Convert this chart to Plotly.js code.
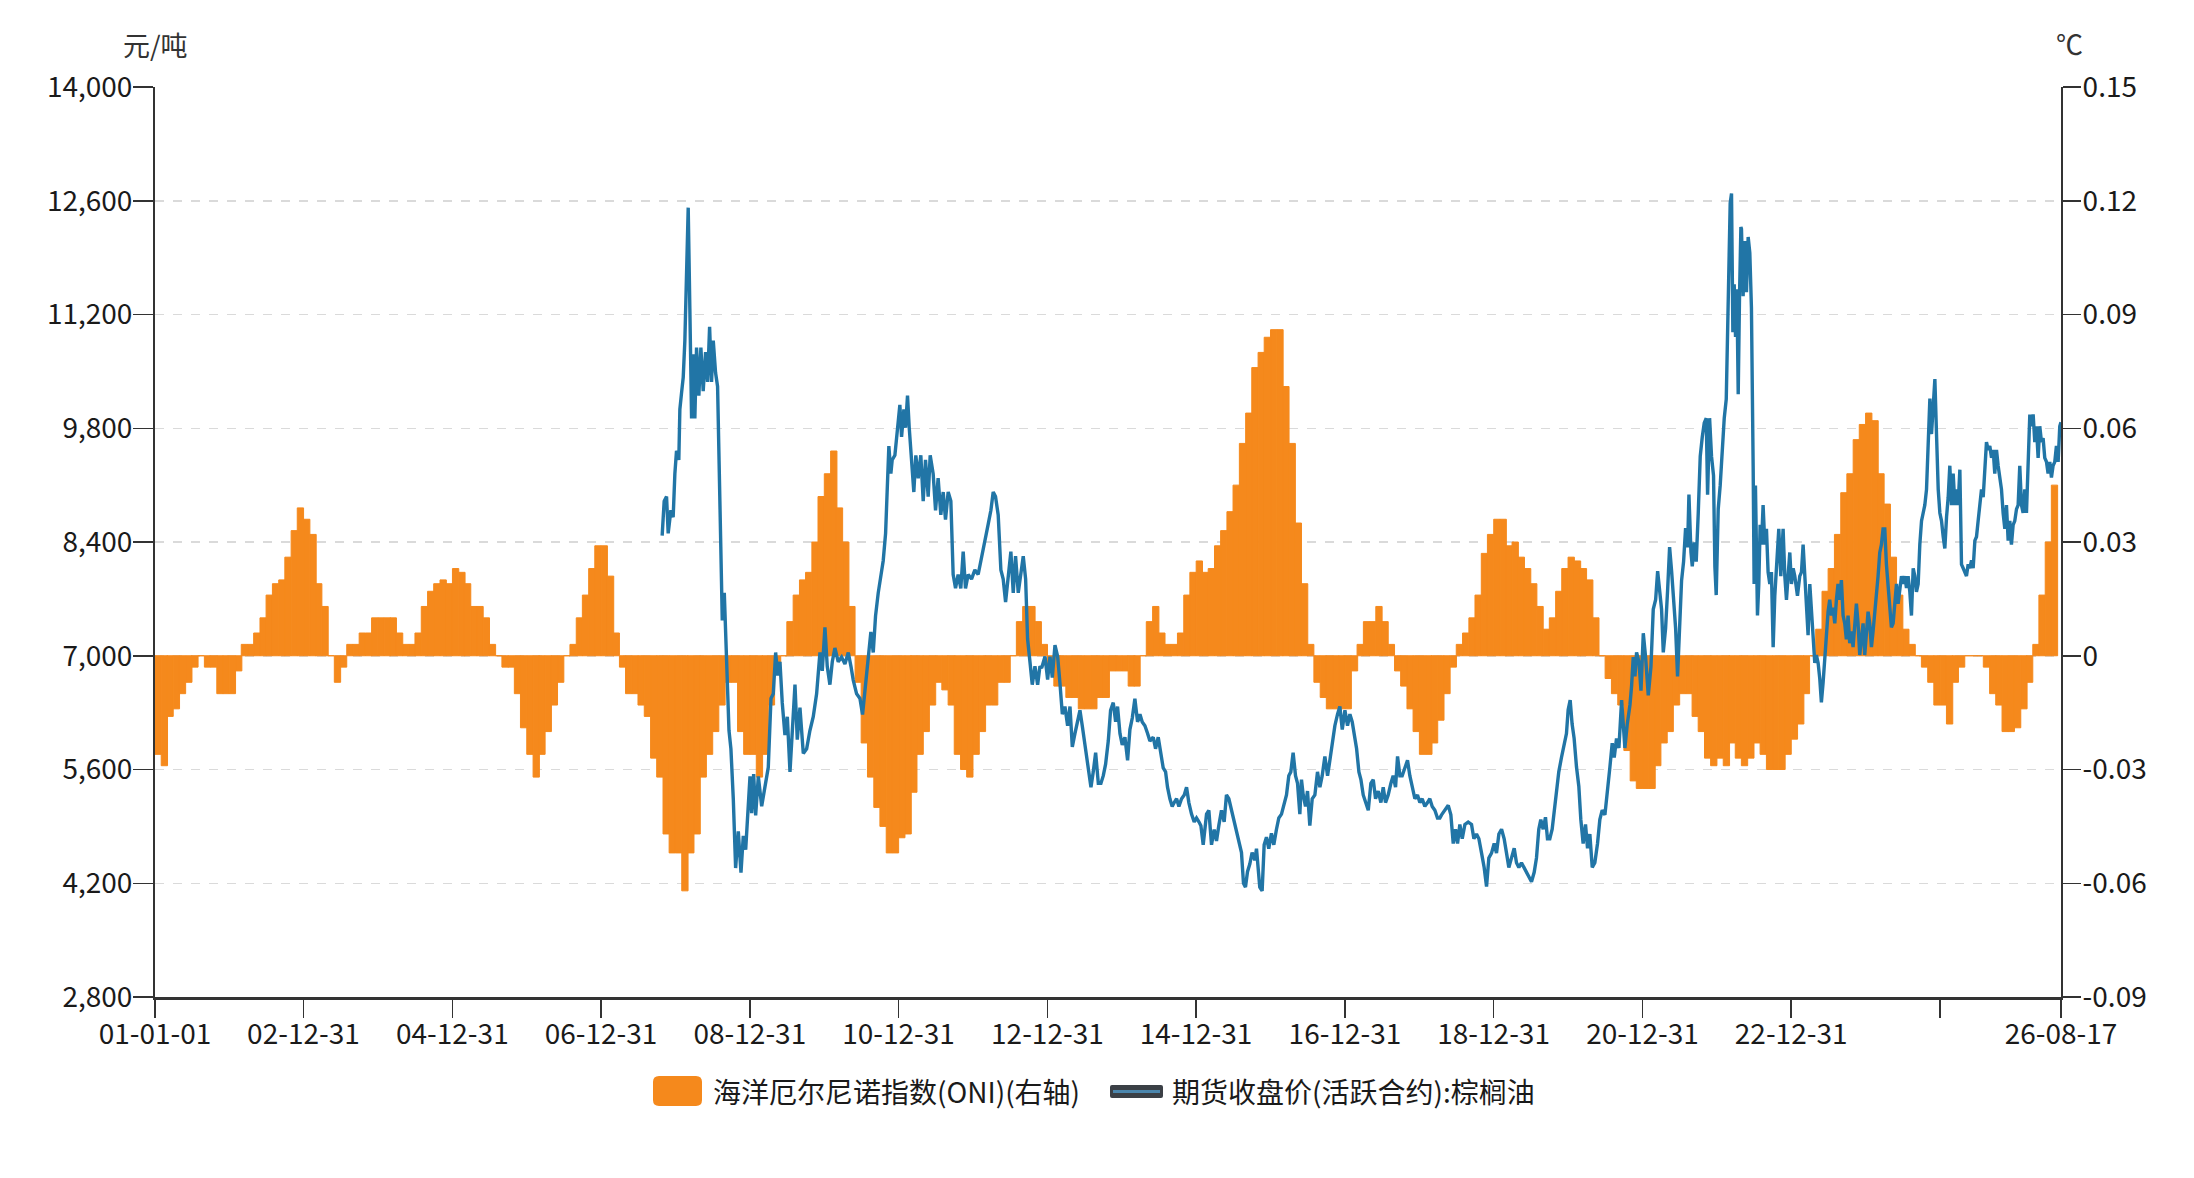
<!DOCTYPE html>
<html>
<head>
<meta charset="utf-8">
<script src="https://cdn.plot.ly/plotly-3.0.1.min.js"></script>
<style>
  html, body { margin: 0; padding: 0; background: #fff; }
  #chart { width: 2194px; height: 1178px; }
</style>
</head>
<body>
<div id="chart"></div>
<script>
/* ----- Data ----- */

// Oceanic Nino index (right axis), one value per month starting 2001-01
var oniStartYear = 2001;
var oniValues = [
  -0.026, -0.029, -0.016, -0.014, -0.010, -0.007, -0.003, 0, -0.003, -0.003, -0.010, -0.010,   // 2001
  -0.010, -0.004, 0.003, 0.003, 0.006, 0.010, 0.016, 0.019, 0.020, 0.026, 0.033, 0.039,        // 2002
  0.036, 0.032, 0.019, 0.013, 0, -0.007, -0.003, 0.003, 0.003, 0.006, 0.006, 0.010,            // 2003
  0.010, 0.010, 0.010, 0.006, 0.003, 0.003, 0.006, 0.013, 0.017, 0.019, 0.020, 0.019,          // 2004
  0.023, 0.022, 0.019, 0.013, 0.013, 0.010, 0.003, 0, -0.003, -0.003, -0.010, -0.019,          // 2005
  -0.026, -0.032, -0.026, -0.020, -0.013, -0.007, 0, 0.003, 0.010, 0.016, 0.023, 0.029,        // 2006
  0.029, 0.021, 0.006, -0.003, -0.010, -0.010, -0.013, -0.016, -0.027, -0.032, -0.047, -0.052, // 2007
  -0.052, -0.062, -0.052, -0.047, -0.032, -0.026, -0.020, -0.013, -0.007, -0.007, -0.020, -0.026, // 2008
  -0.026, -0.032, -0.026, -0.013, -0.003, 0, 0.009, 0.016, 0.020, 0.022, 0.030, 0.042,         // 2009
  0.048, 0.054, 0.039, 0.030, 0.013, -0.007, -0.023, -0.032, -0.040, -0.045, -0.052, -0.052,   // 2010
  -0.048, -0.047, -0.036, -0.026, -0.020, -0.013, -0.007, -0.009, -0.013, -0.026, -0.030, -0.032, // 2011
  -0.026, -0.020, -0.013, -0.013, -0.007, -0.007, 0, 0.009, 0.013, 0.013, 0.009, 0.003,        // 2012
  -0.004, -0.008, -0.008, -0.011, -0.011, -0.014, -0.014, -0.014, -0.011, -0.011, -0.004, -0.004, // 2013
  -0.004, -0.008, -0.008, 0, 0.009, 0.013, 0.006, 0.003, 0.003, 0.006, 0.016, 0.022,           // 2014
  0.025, 0.022, 0.023, 0.029, 0.033, 0.038, 0.045, 0.056, 0.064, 0.076, 0.080, 0.084,          // 2015
  0.086, 0.086, 0.071, 0.056, 0.035, 0.019, 0.003, -0.007, -0.011, -0.014, -0.014, -0.014,     // 2016
  -0.014, -0.004, 0.003, 0.009, 0.009, 0.013, 0.009, 0.003, -0.004, -0.008, -0.014, -0.020,    // 2017
  -0.026, -0.026, -0.023, -0.017, -0.010, -0.003, 0.003, 0.006, 0.010, 0.016, 0.027, 0.032,    // 2018
  0.036, 0.036, 0.029, 0.030, 0.026, 0.023, 0.019, 0.013, 0.007, 0.010, 0.017, 0.023,          // 2019
  0.026, 0.025, 0.023, 0.020, 0.010, 0, -0.006, -0.010, -0.013, -0.025, -0.033, -0.035,        // 2020
  -0.035, -0.035, -0.029, -0.023, -0.020, -0.013, -0.010, -0.010, -0.016, -0.020, -0.027, -0.029, // 2021
  -0.027, -0.029, -0.023, -0.027, -0.029, -0.027, -0.023, -0.026, -0.030, -0.030, -0.030, -0.026, // 2022
  -0.022, -0.018, -0.010, 0, 0.007, 0.017, 0.023, 0.032, 0.043, 0.048, 0.057, 0.061,           // 2023
  0.064, 0.062, 0.048, 0.040, 0.026, 0.016, 0.007, 0.003, 0, -0.003, -0.007, -0.013,           // 2024
  -0.013, -0.018, -0.007, -0.003, 0, 0, 0, -0.003, -0.010, -0.013, -0.020, -0.020,             // 2025
  -0.019, -0.014, -0.007, 0.003, 0.016, 0.030, 0.045                                           // 2026
];

// palm oil futures close (left axis): [decimal year, yuan per ton]
var palmOil = [
  [2007.820, 8479], [2007.847, 8903], [2007.879, 8959], [2007.901, 8507], [2007.937, 8790], [2007.968, 8705],
  [2007.991, 9241], [2008.013, 9523], [2008.044, 9410], [2008.058, 10032], [2008.080, 10229], [2008.103, 10427],
  [2008.125, 10878], [2008.147, 11725], [2008.170, 12515], [2008.192, 11273], [2008.215, 9919], [2008.237, 10709],
  [2008.259, 9919], [2008.282, 10794], [2008.313, 10201], [2008.340, 10794], [2008.371, 10257], [2008.403, 10737],
  [2008.430, 10370], [2008.457, 11047], [2008.483, 10370], [2008.506, 10878], [2008.537, 10483], [2008.564, 10314],
  [2008.582, 9354], [2008.609, 8056], [2008.627, 7435], [2008.654, 7774], [2008.672, 7209], [2008.699, 6644],
  [2008.717, 6080], [2008.743, 5854], [2008.775, 5233], [2008.806, 4387], [2008.842, 4838], [2008.878, 4330],
  [2008.909, 4782], [2008.941, 4613], [2008.968, 5120], [2008.999, 5515], [2009.021, 5064], [2009.048, 5543],
  [2009.075, 5036], [2009.111, 5515], [2009.156, 5148], [2009.200, 5402], [2009.245, 5628], [2009.281, 6475],
  [2009.312, 6531], [2009.344, 7040], [2009.371, 6757], [2009.402, 6926], [2009.433, 6419], [2009.469, 6023],
  [2009.501, 6249], [2009.537, 5571], [2009.568, 6080], [2009.604, 6644], [2009.635, 5967], [2009.671, 6362],
  [2009.716, 5797], [2009.761, 5854], [2009.805, 6080], [2009.850, 6249], [2009.895, 6531], [2009.940, 7040],
  [2009.971, 6814], [2010.007, 7350], [2010.038, 6870], [2010.074, 6644], [2010.106, 6926], [2010.141, 7096],
  [2010.186, 6926], [2010.231, 6983], [2010.276, 6898], [2010.321, 7040], [2010.357, 6870], [2010.388, 6701],
  [2010.433, 6531], [2010.478, 6475], [2010.513, 6277], [2010.545, 6588], [2010.590, 6983], [2010.625, 7294],
  [2010.657, 7040], [2010.688, 7491], [2010.724, 7774], [2010.760, 8000], [2010.791, 8169], [2010.823, 8507],
  [2010.849, 9128], [2010.867, 9580], [2010.894, 9241], [2010.912, 9410], [2010.948, 9467], [2010.984, 9862],
  [2011.015, 10088], [2011.038, 9693], [2011.069, 10032], [2011.091, 9806], [2011.118, 10201], [2011.141, 9806],
  [2011.172, 9467], [2011.203, 9015], [2011.230, 9467], [2011.262, 9185], [2011.297, 9467], [2011.329, 8903],
  [2011.360, 9410], [2011.396, 8959], [2011.423, 9467], [2011.463, 9241], [2011.495, 8790], [2011.530, 9185],
  [2011.566, 8733], [2011.598, 9015], [2011.629, 8677], [2011.665, 9015], [2011.701, 8903], [2011.732, 8000],
  [2011.764, 7830], [2011.799, 8000], [2011.835, 7830], [2011.867, 8282], [2011.898, 7830], [2011.934, 8000],
  [2011.979, 7944], [2012.024, 8056], [2012.068, 8000], [2012.113, 8225], [2012.158, 8451], [2012.203, 8620],
  [2012.239, 8790], [2012.270, 9015], [2012.301, 8959], [2012.337, 8733], [2012.373, 8056], [2012.404, 7944],
  [2012.436, 7661], [2012.471, 7944], [2012.507, 8282], [2012.539, 7774], [2012.570, 8225], [2012.606, 7774],
  [2012.642, 8000], [2012.673, 8225], [2012.705, 7944], [2012.731, 7209], [2012.763, 6926], [2012.794, 6644],
  [2012.830, 6870], [2012.866, 6644], [2012.897, 6870],
  [2012.920, 6848], [2012.965, 6990], [2013.000, 6707], [2013.032, 6990], [2013.063, 6730], [2013.099, 7132],
  [2013.135, 6990], [2013.166, 6659], [2013.198, 6281], [2013.233, 6375], [2013.269, 6139], [2013.301, 6375],
  [2013.332, 5879], [2013.368, 6044], [2013.404, 6186], [2013.435, 6328], [2013.466, 6139], [2013.502, 5902],
  [2013.547, 5619], [2013.583, 5382], [2013.614, 5571], [2013.646, 5808], [2013.682, 5429], [2013.717, 5429],
  [2013.749, 5524], [2013.780, 5666], [2013.816, 5950], [2013.847, 6328], [2013.883, 6423], [2013.915, 6186],
  [2013.941, 6375], [2013.973, 6044], [2014.004, 5902], [2014.040, 5997], [2014.076, 5713], [2014.107, 6092],
  [2014.139, 6233], [2014.174, 6470], [2014.210, 6186], [2014.242, 6281], [2014.273, 6186], [2014.309, 6139],
  [2014.345, 6044], [2014.376, 5950], [2014.421, 5997], [2014.452, 5855], [2014.488, 5997], [2014.524, 5761],
  [2014.555, 5619], [2014.587, 5571], [2014.613, 5382], [2014.645, 5240], [2014.676, 5146], [2014.703, 5193],
  [2014.735, 5240], [2014.766, 5146], [2014.802, 5240], [2014.838, 5287], [2014.869, 5382], [2014.900, 5193],
  [2014.936, 5051], [2014.972, 4956], [2015.003, 5004], [2015.035, 4956], [2015.062, 4909], [2015.093, 4673],
  [2015.115, 4862], [2015.138, 5051], [2015.169, 5098], [2015.205, 4673], [2015.241, 4862], [2015.272, 4720],
  [2015.303, 4909], [2015.339, 5098], [2015.375, 4956], [2015.406, 5287], [2015.438, 5240], [2015.474, 5098],
  [2015.509, 4956], [2015.541, 4862], [2015.572, 4720], [2015.608, 4578], [2015.635, 4200], [2015.662, 4152],
  [2015.689, 4342], [2015.720, 4436], [2015.751, 4578], [2015.787, 4484], [2015.810, 4625], [2015.832, 4389],
  [2015.854, 4152], [2015.886, 4105], [2015.913, 4673], [2015.944, 4767], [2015.975, 4625], [2016.011, 4814],
  [2016.043, 4673], [2016.078, 4862], [2016.110, 5004], [2016.146, 5051], [2016.181, 5193], [2016.213, 5287],
  [2016.244, 5524], [2016.271, 5571], [2016.302, 5808], [2016.334, 5524], [2016.361, 5429], [2016.392, 5051],
  [2016.414, 5476], [2016.437, 5287], [2016.468, 5146], [2016.495, 5335], [2016.526, 4909], [2016.558, 5240],
  [2016.594, 5287], [2016.629, 5571], [2016.661, 5382], [2016.692, 5524], [2016.728, 5761], [2016.764, 5524],
  [2016.795, 5713], [2016.826, 5950], [2016.862, 6139], [2016.898, 6281], [2016.929, 6375], [2016.961, 6092],
  [2016.997, 6328], [2017.032, 6139], [2017.064, 6281], [2017.095, 6186], [2017.122, 6044], [2017.154, 5855],
  [2017.185, 5571], [2017.212, 5476], [2017.243, 5287], [2017.275, 5193], [2017.311, 5098], [2017.346, 5429],
  [2017.378, 5476], [2017.409, 5240], [2017.445, 5335], [2017.481, 5193], [2017.512, 5382], [2017.543, 5193],
  [2017.579, 5287], [2017.615, 5429], [2017.646, 5524], [2017.678, 5382], [2017.705, 5761], [2017.736, 5524],
  [2017.767, 5524], [2017.803, 5619], [2017.839, 5713], [2017.870, 5524], [2017.902, 5382], [2017.938, 5240],
  [2017.973, 5287], [2018.005, 5193], [2018.036, 5240], [2018.072, 5146], [2018.108, 5193], [2018.139, 5240],
  [2018.171, 5146], [2018.207, 5098], [2018.242, 5004], [2018.274, 5004],
  [2018.297, 5042], [2018.342, 5100], [2018.387, 5159], [2018.422, 5042], [2018.454, 4689], [2018.485, 4865],
  [2018.512, 4689], [2018.543, 4924], [2018.575, 4747], [2018.611, 4924], [2018.655, 4953], [2018.700, 4924],
  [2018.732, 4747], [2018.767, 4806], [2018.799, 4747], [2018.835, 4571], [2018.870, 4394], [2018.902, 4159],
  [2018.933, 4512], [2018.969, 4571], [2019.005, 4689], [2019.036, 4571], [2019.068, 4806], [2019.104, 4865],
  [2019.139, 4747], [2019.171, 4571], [2019.202, 4394], [2019.238, 4512], [2019.274, 4630], [2019.305, 4453],
  [2019.337, 4394], [2019.372, 4453], [2019.408, 4394], [2019.440, 4335], [2019.471, 4277], [2019.507, 4218],
  [2019.543, 4335], [2019.574, 4512], [2019.605, 4865], [2019.632, 4983], [2019.664, 4865], [2019.695, 5012],
  [2019.722, 4747], [2019.753, 4747], [2019.785, 4865], [2019.812, 5100], [2019.843, 5394], [2019.874, 5571],
  [2019.910, 5747], [2019.946, 5924], [2019.977, 6042], [2020.000, 6336], [2020.027, 6453], [2020.053, 6159],
  [2020.080, 5983], [2020.112, 5630], [2020.143, 5394], [2020.170, 4983], [2020.201, 4689], [2020.233, 4924],
  [2020.260, 4630], [2020.291, 4806], [2020.323, 4394], [2020.358, 4453], [2020.394, 4689], [2020.425, 4983],
  [2020.457, 5100], [2020.493, 5042], [2020.524, 5277], [2020.560, 5630], [2020.591, 5924], [2020.618, 5747],
  [2020.649, 5983], [2020.681, 5865], [2020.717, 6453], [2020.739, 6159], [2020.761, 5865], [2020.793, 6159],
  [2020.829, 6394], [2020.851, 6630], [2020.873, 6983], [2020.896, 6747], [2020.918, 7042], [2020.950, 6924],
  [2020.977, 6571], [2021.008, 7277], [2021.039, 6983], [2021.075, 6512], [2021.111, 6865], [2021.142, 7571],
  [2021.174, 7689], [2021.201, 8042], [2021.232, 7747], [2021.254, 7571], [2021.277, 7042], [2021.308, 7336],
  [2021.335, 7806], [2021.362, 8336], [2021.389, 8042], [2021.416, 7630], [2021.443, 7336], [2021.469, 6747],
  [2021.496, 7336], [2021.523, 7924], [2021.550, 8159], [2021.577, 8571], [2021.604, 8336], [2021.622, 8983],
  [2021.649, 8277], [2021.667, 8100], [2021.693, 8394], [2021.720, 8159], [2021.747, 8747], [2021.774, 9453],
  [2021.801, 9689], [2021.828, 9865], [2021.855, 9924], [2021.873, 8983], [2021.900, 9924], [2021.926, 9453],
  [2021.953, 9218], [2021.971, 8100], [2021.989, 7747], [2022.016, 8806], [2022.043, 9100], [2022.070, 9571],
  [2022.097, 9924], [2022.124, 10159], [2022.142, 10983], [2022.160, 11924], [2022.177, 12571], [2022.195, 12689],
  [2022.213, 10983], [2022.231, 11571], [2022.249, 10924], [2022.267, 11512], [2022.285, 10218], [2022.303, 11453],
  [2022.321, 12277],
  [2022.329, 12251], [2022.351, 11426], [2022.374, 12105], [2022.396, 11474], [2022.419, 12154], [2022.441, 11959],
  [2022.463, 11280], [2022.486, 9339], [2022.499, 7883], [2022.517, 9096], [2022.531, 7980], [2022.544, 7495],
  [2022.562, 7883], [2022.580, 8611], [2022.598, 8368], [2022.620, 8854], [2022.643, 8368], [2022.665, 8562],
  [2022.687, 8029], [2022.710, 7883], [2022.732, 8029], [2022.755, 7106], [2022.777, 7737], [2022.799, 8125],
  [2022.831, 8562], [2022.858, 7980], [2022.889, 8562], [2022.912, 7980], [2022.934, 7689], [2022.956, 7980],
  [2022.979, 8271], [2023.001, 7883], [2023.024, 8077], [2023.046, 7980], [2023.082, 7737], [2023.113, 7980],
  [2023.136, 8029], [2023.158, 8368], [2023.180, 7980], [2023.203, 7689], [2023.225, 7252], [2023.248, 7883],
  [2023.270, 7543], [2023.292, 7203], [2023.315, 6912], [2023.337, 7009], [2023.360, 6912], [2023.382, 6718],
  [2023.404, 6427], [2023.427, 6669], [2023.449, 7009], [2023.472, 7252], [2023.494, 7543], [2023.516, 7689],
  [2023.539, 7495], [2023.561, 7592], [2023.584, 7398], [2023.606, 7689], [2023.628, 7883], [2023.651, 7689],
  [2023.673, 7931], [2023.696, 7495], [2023.718, 7398], [2023.740, 7203], [2023.763, 7495], [2023.785, 7155],
  [2023.808, 7300], [2023.830, 7106], [2023.852, 7446], [2023.875, 7640], [2023.897, 7398], [2023.920, 7009],
  [2023.942, 7203], [2023.965, 7398], [2023.987, 7009], [2024.009, 7300], [2024.032, 7543], [2024.054, 7398],
  [2024.077, 7106], [2024.099, 7300], [2024.121, 7495], [2024.144, 7689], [2024.166, 7980], [2024.189, 8271],
  [2024.211, 8368], [2024.233, 8562], [2024.256, 8562], [2024.278, 8125], [2024.301, 7834], [2024.323, 7640],
  [2024.345, 7349], [2024.368, 7398], [2024.390, 7689], [2024.413, 7883], [2024.435, 7640], [2024.457, 7786],
  [2024.480, 7980], [2024.502, 7883], [2024.525, 7980], [2024.547, 7834], [2024.569, 7980], [2024.592, 7786],
  [2024.614, 7495], [2024.637, 8077], [2024.659, 7980], [2024.681, 7786], [2024.704, 7883], [2024.726, 8368],
  [2024.749, 8660], [2024.771, 8757], [2024.793, 8854], [2024.816, 9048], [2024.838, 9533], [2024.861, 10164],
  [2024.883, 9727], [2024.905, 10115], [2024.928, 10406], [2024.950, 9727], [2024.973, 9048], [2024.995, 8757],
  [2025.017, 8660], [2025.040, 8465], [2025.062, 8320], [2025.085, 8708], [2025.107, 8951], [2025.129, 9339],
  [2025.152, 8854], [2025.174, 9242], [2025.197, 8854], [2025.219, 9048], [2025.241, 8854], [2025.264, 9290],
  [2025.286, 8125], [2025.309, 8077], [2025.331, 8029], [2025.353, 7980], [2025.376, 8125], [2025.398, 8077],
  [2025.421, 8174], [2025.443, 8077], [2025.466, 8417], [2025.488, 8465], [2025.510, 8660], [2025.533, 8854],
  [2025.555, 9048], [2025.578, 8951], [2025.600, 9242], [2025.622, 9630], [2025.645, 9533], [2025.667, 9582],
  [2025.690, 9436], [2025.712, 9533], [2025.734, 9242], [2025.757, 9533], [2025.779, 9339], [2025.802, 9193],
  [2025.824, 9048], [2025.846, 8757], [2025.869, 8562], [2025.891, 8854], [2025.914, 8417], [2025.936, 8660],
  [2025.958, 8368], [2025.981, 8611], [2026.003, 8660], [2026.026, 8805], [2026.048, 8854], [2026.070, 9339],
  [2026.093, 8854], [2026.115, 8757], [2026.138, 9048], [2026.160, 8757], [2026.182, 9533], [2026.205, 9970],
  [2026.227, 9824], [2026.250, 9970], [2026.272, 9630], [2026.294, 9824], [2026.317, 9436], [2026.339, 9824],
  [2026.362, 9630], [2026.384, 9679], [2026.406, 9436], [2026.429, 9387], [2026.451, 9242], [2026.474, 9387],
  [2026.496, 9193], [2026.518, 9339], [2026.541, 9387], [2026.563, 9582], [2026.586, 9387], [2026.608, 9824],
  [2026.624, 9873]
];

// axis ticks
var xTickDates = ['2001-01-01', '2002-12-31', '2004-12-31', '2006-12-31', '2008-12-31', '2010-12-31',
                  '2012-12-31', '2014-12-31', '2016-12-31', '2018-12-31', '2020-12-31', '2022-12-31',
                  '2024-12-31', '2026-08-17'];
var xTickLabels = ['01-01-01', '02-12-31', '04-12-31', '06-12-31', '08-12-31', '10-12-31',
                   '12-12-31', '14-12-31', '16-12-31', '18-12-31', '20-12-31', '22-12-31',
                   '', '26-08-17'];
var oniTicks = [-0.09, -0.06, -0.03, 0, 0.03, 0.06, 0.09, 0.12, 0.15];
var oniTickLabels = ['-0.09', '-0.06', '-0.03', '0', '0.03', '0.06', '0.09', '0.12', '0.15'];

var oniName = '海洋厄尔尼诺指数(ONI)(右轴)';
var palmName = '期货收盘价(活跃合约):棕榈油';

/* ----- helpers ----- */

function pad(n) {
    return (n < 10 ? '0' : '') + n;
}

// decimal year -> 'YYYY-MM-DD HH:MM' string
function yearToDate(y) {
    var yr = Math.floor(y);
    var start = Date.UTC(yr, 0, 1);
    var end = Date.UTC(yr + 1, 0, 1);
    var d = new Date(start + (y - yr) * (end - start));
    return d.getUTCFullYear() + '-' + pad(d.getUTCMonth() + 1) + '-' + pad(d.getUTCDate()) +
        ' ' + pad(d.getUTCHours()) + ':' + pad(d.getUTCMinutes());
}

var oniX = [];
for (var i = 0; i < oniValues.length; i++) {
    var yr = oniStartYear + Math.floor(i / 12);
    var mo = (i % 12) + 1;
    oniX.push(yr + '-' + pad(mo) + '-16');  // mid month
}

var palmX = palmOil.map(function (p) { return yearToDate(p[0]); });
var palmY = palmOil.map(function (p) { return p[1]; });

/* ----- plot area in pixels, used for the hand drawn legend ----- */
var W = 2194, H = 1178;
var M = { l: 155, r: 133, t: 87, b: 181 };
var plotW = W - M.l - M.r, plotH = H - M.t - M.b;

function px2x(px) { return (px - M.l) / plotW; }
function px2y(py) { return (H - M.b - py) / plotH; }

// rounded rectangle as a paper-coordinate path
function roundRect(x0, y0, x1, y1, r) {
    var p = [
        ['M', x0 + r, y0], ['L', x1 - r, y0], ['Q', x1, y0, x1, y0 + r],
        ['L', x1, y1 - r], ['Q', x1, y1, x1 - r, y1], ['L', x0 + r, y1],
        ['Q', x0, y1, x0, y1 - r], ['L', x0, y0 + r], ['Q', x0, y0, x0 + r, y0]
    ];
    return p.map(function (s) {
        var out = s[0];
        for (var k = 1; k < s.length; k += 2) {
            out += (k > 1 ? ' ' : '') + px2x(s[k]).toFixed(5) + ',' + px2y(s[k + 1]).toFixed(5);
        }
        return out;
    }).join(' ') + ' Z';
}

/* ----- traces ----- */

var FONT = '"Noto Sans CJK SC", "Noto Sans", sans-serif';
var ORANGE = '#f5891c';
var BLUE = '#2175a6';

var oniBars = {
    type: 'bar',
    x: oniX,
    y: oniValues,
    width: 31 * 86400000,
    marker: { color: ORANGE, line: { color: ORANGE, width: 1 } },
    name: oniName,
    yaxis: 'y',
    hoverinfo: 'skip'
};

var palmLine = {
    type: 'scatter',
    mode: 'lines',
    x: palmX,
    y: palmY,
    line: { color: BLUE, width: 3.4 },
    name: palmName,
    yaxis: 'y2',
    hoverinfo: 'skip'
};

var tickFont = { family: FONT, size: 28, color: '#1a1a1a' };

var layout = {
    width: W,
    height: H,
    paper_bgcolor: '#fff',
    plot_bgcolor: '#fff',
    margin: M,
    font: { family: FONT, size: 28, color: '#1a1a1a' },
    showlegend: false,
    xaxis: {
        type: 'date',
        range: ['2001-01-01', '2026-08-17'],
        tickmode: 'array',
        tickvals: xTickDates,
        ticktext: xTickLabels,
        ticks: 'outside',
        ticklen: 18,
        tickwidth: 1.5,
        tickcolor: '#333',
        ticklabelstandoff: -8,
        showline: true,
        linecolor: '#333',
        linewidth: 3,
        showgrid: false,
        zeroline: false,
        tickfont: tickFont
    },
    // ONI axis on the right (drawn underneath)
    yaxis: {
        side: 'right',
        range: [-0.09, 0.15],
        tickmode: 'array',
        tickvals: oniTicks,
        ticktext: oniTickLabels,
        ticks: 'outside',
        ticklen: 18,
        tickwidth: 1.5,
        tickcolor: '#333',
        ticklabelstandoff: -4,
        showline: true,
        linecolor: '#333',
        linewidth: 2,
        showgrid: true,
        gridcolor: '#dadada',
        gridwidth: 1.5,
        griddash: 'dash',
        zeroline: false,
        tickfont: tickFont
    },
    // price axis on the left (line drawn on top)
    yaxis2: {
        overlaying: 'y',
        side: 'left',
        range: [2800, 14000],
        dtick: 1400,
        tick0: 2800,
        tickformat: ',d',
        ticks: 'outside',
        ticklen: 20,
        tickwidth: 1.5,
        tickcolor: '#333',
        ticklabelstandoff: -5,
        showline: true,
        linecolor: '#333',
        linewidth: 2,
        showgrid: false,
        zeroline: false,
        tickfont: tickFont
    },
    shapes: [
        // legend keys
        {
            type: 'path', xref: 'paper', yref: 'paper', layer: 'above',
            path: roundRect(653, 1076, 702, 1106, 6),
            fillcolor: ORANGE, line: { width: 0 }
        },
        {
            type: 'path', xref: 'paper', yref: 'paper', layer: 'above',
            path: roundRect(1110, 1085, 1163, 1098, 2),
            fillcolor: '#3b4046', line: { width: 0 }
        },
        {
            type: 'line', xref: 'paper', yref: 'paper', layer: 'above',
            x0: px2x(1113), x1: px2x(1160), y0: px2y(1091.5), y1: px2y(1091.5),
            line: { color: '#4b86ad', width: 3 }
        }
    ],
    annotations: [
        {
            text: '元/吨', xref: 'paper', yref: 'paper', x: 0, y: px2y(45),
            xanchor: 'center', yanchor: 'middle', showarrow: false,
            font: { family: FONT, size: 27, color: '#333' }
        },
        {
            text: '℃', xref: 'paper', yref: 'paper', x: px2x(2069), y: px2y(44),
            xanchor: 'center', yanchor: 'middle', showarrow: false,
            font: { family: FONT, size: 27, color: '#333' }
        },
        {
            text: oniName, xref: 'paper', yref: 'paper', x: px2x(711), y: px2y(1091),
            xanchor: 'left', yanchor: 'middle', showarrow: false,
            font: { family: FONT, size: 28, color: '#1a1a1a' }
        },
        {
            text: palmName, xref: 'paper', yref: 'paper', x: px2x(1170), y: px2y(1091),
            xanchor: 'left', yanchor: 'middle', showarrow: false,
            font: { family: FONT, size: 28, color: '#1a1a1a' }
        }
    ]
};

Plotly.newPlot('chart', [oniBars, palmLine], layout, { staticPlot: true });
</script>
</body>
</html>
